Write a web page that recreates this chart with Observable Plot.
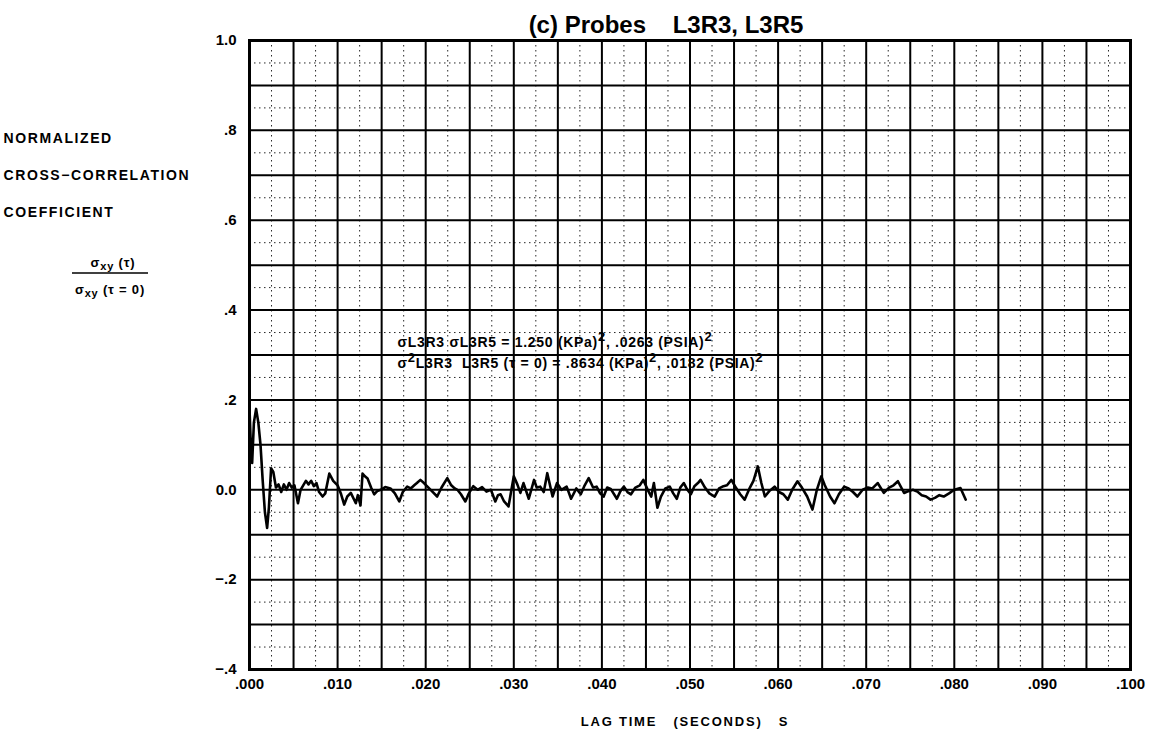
<!DOCTYPE html>
<html><head><meta charset="utf-8">
<script src="https://cdn.jsdelivr.net/npm/d3@7"></script>
<script src="https://cdn.jsdelivr.net/npm/@observablehq/plot@0.6"></script>
<style>body{margin:0;background:#fff} svg{display:block}</style>
</head><body><div id="chart"></div>
<script>
const FONT = "'Liberation Sans', Arial, Helvetica, sans-serif";

// Lag time (milliseconds) and normalized cross-correlation coefficient
const lagTimeMs = [0.00,0.15,0.30,0.50,0.75,1.00,1.25,1.50,1.75,2.00,2.20,2.45,2.70,3.00,3.30,3.60,3.90,4.20,4.50,4.80,5.10,5.50,5.80,6.10,6.40,6.70,7.00,7.30,7.60,7.90,8.30,8.60,9.06,9.50,10.00,10.40,10.75,11.10,11.50,12.07,12.30,12.60,12.83,13.10,13.40,13.80,14.15,14.50,14.90,15.40,16.00,16.50,17.00,17.40,17.90,18.30,18.70,19.00,19.40,19.80,20.20,20.70,21.30,21.80,22.45,22.90,23.30,23.60,24.00,24.50,24.90,25.40,25.90,26.40,26.90,27.40,27.90,28.20,28.50,28.90,29.40,30.00,30.40,30.75,31.10,31.70,32.30,32.60,33.00,33.40,33.80,34.40,34.90,35.40,36.00,36.50,37.10,37.60,38.00,38.50,39.00,39.40,39.80,40.20,40.60,41.00,41.70,42.10,42.50,42.90,43.30,43.80,44.30,44.70,45.20,45.60,45.90,46.30,46.70,47.20,47.70,48.10,48.50,48.90,49.30,49.70,50.10,50.50,50.90,51.20,51.70,52.20,52.80,53.30,53.80,54.20,54.70,55.20,55.70,56.20,56.80,57.20,57.70,58.10,58.50,59.00,59.60,60.10,60.60,61.10,61.60,62.20,62.70,63.30,63.90,64.40,64.90,65.30,65.90,66.40,66.90,67.50,68.00,68.50,69.00,69.60,70.20,70.70,71.30,72.00,72.60,73.10,73.60,74.30,74.80,75.30,75.80,76.30,76.80,77.30,77.80,78.30,78.80,79.40,80.00,80.70,81.30];
const coefficient = [0.180,0.100,0.060,0.150,0.180,0.150,0.100,0.020,-0.050,-0.085,-0.040,0.048,0.040,0.005,0.012,-0.005,0.012,0.000,0.015,0.005,0.010,-0.030,0.000,0.010,0.020,0.012,0.020,0.008,0.015,-0.005,-0.015,-0.008,0.036,0.020,0.010,-0.010,-0.033,-0.015,-0.007,-0.030,-0.012,-0.035,0.036,0.030,0.025,0.005,-0.010,-0.003,0.000,0.006,0.003,-0.008,-0.026,-0.005,0.007,0.003,0.010,0.015,0.022,0.015,0.007,-0.003,-0.015,0.005,0.026,0.010,0.003,0.000,-0.010,-0.026,-0.008,0.008,0.000,0.006,-0.004,0.000,-0.026,-0.012,-0.010,-0.026,-0.037,0.030,0.012,-0.007,0.015,-0.020,0.022,0.005,0.007,-0.005,0.037,-0.015,0.015,0.000,0.007,-0.020,0.003,-0.010,0.008,0.026,0.005,0.007,-0.008,-0.015,0.005,0.002,-0.020,-0.003,0.007,-0.005,-0.010,0.005,0.010,0.022,0.000,-0.015,0.015,-0.040,-0.015,0.003,0.007,-0.008,-0.020,0.005,0.015,0.000,-0.010,0.008,0.015,0.022,0.005,-0.008,-0.015,0.003,0.008,0.010,0.022,0.005,-0.010,-0.022,0.005,0.020,0.052,0.015,-0.015,-0.003,0.007,-0.005,-0.010,-0.022,0.000,0.019,0.005,-0.015,-0.044,0.000,0.030,0.010,-0.015,-0.030,-0.010,0.007,0.003,-0.005,-0.015,0.000,0.005,0.003,0.015,-0.007,0.005,0.010,0.019,-0.007,-0.003,0.000,-0.004,-0.012,-0.015,-0.022,-0.018,-0.012,-0.015,-0.008,0.000,0.004,-0.022];

const xTicks = [0,0.01,0.02,0.03,0.04,0.05,0.06,0.07,0.08,0.09,0.1];
const xTickLabels = [".000",".010",".020",".030",".040",".050",".060",".070",".080",".090",".100"];
const yTicks = [-0.4,-0.2,0,0.2,0.4,0.6,0.8,1.0];
const yTickLabels = ["\u2212.4","\u2212.2","0.0",".2",".4",".6",".8","1.0"];

const titleText = "(c) Probes\u00a0\u00a0\u00a0\u00a0L3R3, L3R5";
const xLabelText = "LAG TIME\u00a0\u00a0\u00a0(SECONDS)\u00a0\u00a0\u00a0S";
const yLabelLines = ["NORMALIZED", "CROSS\u2212CORRELATION", "COEFFICIENT"];
const annotationLines = [
  "\u03c3L3R3 \u03c3L3R5 = 1.250 (KPa)\u00b2, .0263 (PSIA)\u00b2",
  "\u03c3\u00b2L3R3\u00a0\u00a0L3R5 (\u03c4 = 0) = .8634 (KPa)\u00b2, .0182 (PSIA)\u00b2"
];
const annotationX = 0.0168;
const annotationY = [0.327, 0.282];

const data = lagTimeMs.map((t, i) => ({t: t / 1000, v: coefficient[i]}));

const majorX = d3.range(0, 21).map(i => i * 0.005);
const minorX = d3.range(0, 20).map(i => i * 0.005 + 0.0025);
const majorY = d3.range(0, 15).map(i => -0.4 + i * 0.1);
const minorY = d3.range(0, 14).map(i => -0.35 + i * 0.1);

const yLabelMarks = yLabelLines.map((line, i) =>
  Plot.text([line], {frameAnchor: "top-left", textAnchor: "start", dx: -246, dy: 93 + 37 * i, text: d => d, fontSize: 14, fontWeight: "bold"})
);

const chart = Plot.plot({
  width: 1156, height: 737,
  marginLeft: 249, marginRight: 26, marginTop: 40, marginBottom: 68,
  x: {domain: [0, 0.1]},
  y: {domain: [-0.4, 1.0]},
  style: {fontFamily: FONT, background: "#fff", color: "#000"},
  marks: [
    Plot.ruleX(minorX, {stroke: "#000", strokeWidth: 1, strokeDasharray: "1.5,3.5", strokeOpacity: 0.85}),
    Plot.ruleY(minorY, {stroke: "#000", strokeWidth: 1, strokeDasharray: "1.5,3.5", strokeOpacity: 0.85}),
    Plot.ruleX(majorX, {stroke: "#000", strokeWidth: 2}),
    Plot.ruleY(majorY, {stroke: "#000", strokeWidth: 2}),
    Plot.frame({stroke: "#000", strokeWidth: 3}),
    Plot.line(data, {x: "t", y: "v", stroke: "#000", strokeWidth: 2.6}),
    Plot.axisX({ticks: xTicks, tickFormat: d => xTickLabels[xTicks.indexOf(d)], tickSize: 0, tickPadding: 9, fontSize: 15, fontWeight: "bold", label: null}),
    Plot.axisY({ticks: yTicks, tickFormat: d => yTickLabels[yTicks.indexOf(d)], tickSize: 0, tickPadding: 13, fontSize: 15, fontWeight: "bold", label: null}),
    Plot.text(annotationLines, {x: annotationX, y: (d, i) => annotationY[i], text: d => d, textAnchor: "start", fontSize: 14, fontWeight: "bold"}),
    Plot.text([titleText], {frameAnchor: "top", dy: -25, dx: -24, text: d => d, fontSize: 24, fontWeight: "bold"}),
    Plot.text([xLabelText], {frameAnchor: "bottom", dy: 56, dx: -5, text: d => d, fontSize: 13, fontWeight: "bold"}),
    ...yLabelMarks
  ]
});

const svg = d3.select(chart);
svg.selectAll("text").filter(function() { return yLabelLines.includes(this.textContent); })
  .style("letter-spacing", "1.6px");
svg.selectAll("text").filter(function() { return this.textContent === xLabelText; })
  .style("letter-spacing", "1.8px");

// render the squared marks in the annotation as real superscripts
svg.selectAll("text").filter(function() { return annotationLines.includes(this.textContent); })
  .style("letter-spacing", "0.7px")
  .each(function() {
    const el = d3.select(this);
    const parts = this.textContent.split("\u00b2");
    el.text(null);
    parts.forEach((p, j) => {
      const t = el.append("tspan").text(p);
      if (j > 0) t.attr("dy", 6);
      if (j < parts.length - 1) {
        el.append("tspan").attr("font-size", 13).attr("dy", -6).text("2");
      }
    });
  });

// sigma fraction label
const g = svg.append("g").attr("font-family", FONT).attr("font-weight", "bold").attr("font-size", 13).attr("fill", "#000").style("letter-spacing", "0.8px");
const num = g.append("text").attr("x", 113).attr("y", 267).attr("text-anchor", "middle");
num.append("tspan").text("\u03c3");
num.append("tspan").attr("font-size", 11).attr("dy", 3).text("xy");
num.append("tspan").attr("dy", -3).text(" (\u03c4)");
g.append("line").attr("x1", 72).attr("x2", 148).attr("y1", 273).attr("y2", 273).attr("stroke", "#000").attr("stroke-width", 1.5);
const den = g.append("text").attr("x", 110).attr("y", 294).attr("text-anchor", "middle");
den.append("tspan").text("\u03c3");
den.append("tspan").attr("font-size", 11).attr("dy", 3).text("xy");
den.append("tspan").attr("dy", -3).text(" (\u03c4 = 0)");

document.getElementById("chart").appendChild(chart);
</script>
</body></html>
